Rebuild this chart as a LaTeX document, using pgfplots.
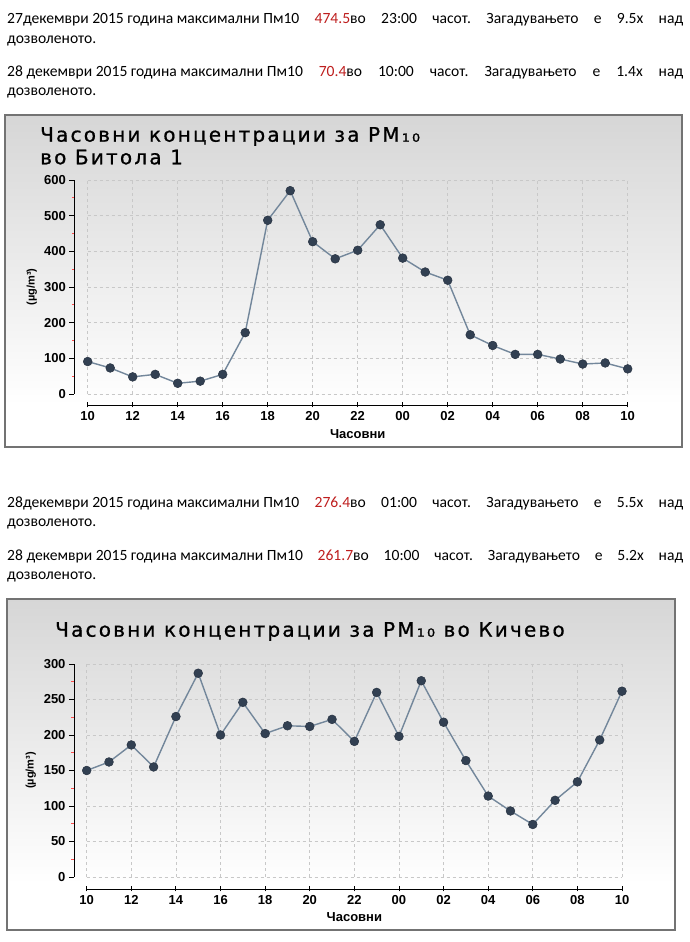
\documentclass[border=0pt]{standalone}
\usepackage{fontspec}
\setmainfont{Carlito}
\newfontfamily\titlefont[LetterSpace=11, FakeBold=0.8]{DejaVu Sans}
\newfontfamily\axfont{Liberation Sans}
\usepackage{pgfplots}
\pgfplotsset{compat=1.18}
\usepackage{pgfplotstable}

\definecolor{linec}{RGB}{115,135,155}
\definecolor{markc}{RGB}{50,64,82}
\definecolor{gridc}{RGB}{200,200,200}
\definecolor{numred}{RGB}{190,30,30}
\definecolor{boxc}{RGB}{115,115,115}

% hourly PM10, hour index 0 = 10:00
\pgfplotstableread{
h v
0 91
1 73
2 48
3 55
4 30
5 36
6 55
7 172
8 487
9 570
10 427
11 379
12 403
13 474.5
14 381
15 342
16 319
17 166
18 136
19 111
20 111
21 98
22 84
23 87
24 70.4
}\bitola

\pgfplotstableread{
h v
0 150
1 162
2 186
3 155
4 226
5 287
6 200
7 246
8 202
9 213
10 212
11 222
12 191
13 260
14 198
15 276.4
16 218
17 164
18 114
19 93
20 74
21 108
22 134
23 193
24 261.7
}\kicevo

\pgfplotsset{pmchart/.style={
    scale only axis, anchor=origin, clip=false,
    xmin=0, xmax=24, ymin=0,
    axis lines=left, axis line style={-, black, line width=0.9pt},
    xtick={0,2,...,24},
    xticklabels={10,12,14,16,18,20,22,00,02,04,06,08,10},
    grid=major, major grid style={dashed, gridc, line width=0.6pt},
    tick label style={font=\axfont\bfseries\fontsize{13}{15}\selectfont},
    xticklabel style={anchor=base, yshift=-13pt},
    label style={font=\axfont\bfseries\fontsize{13}{15}\selectfont},
    /pgf/number format/assume math mode=true,
    minor y tick num=1,
    tick style={black, line width=0.9pt},
    minor y tick style={red!70, line width=0.8pt},
    tick align=outside, xtick align=center,
    major tick length=5pt, minor tick length=2.5pt,
    xlabel={Часовни},
    ylabel={(µg/m³)},
    xlabel style={at={(axis description cs:0.5,0)}, anchor=center, yshift=-40pt},
    ylabel style={at={(axis description cs:0,0.5)}, anchor=center, yshift=56pt,
      font=\axfont\bfseries\fontsize{11}{13}\selectfont},
  },
  pmline/.style={color=linec, line width=1.4pt, mark=*, mark size=4.4pt,
    mark options={fill=markc, draw=markc!80!black, line width=0.5pt}},
}

\begin{document}
\frenchspacing
\begin{tikzpicture}[x=1pt, y=1pt]
\useasboundingbox (0,0) rectangle (690,942);

\begin{scope}[font=\fontsize{15.6}{18}\selectfont]
\node[anchor=base west, inner sep=0] at (7,918) {\makebox[676pt][s]{\mbox{27декември 2015 година максимални Пм10} \textcolor{numred}{474.5}во 23:00 часот. Загадувањето е 9.5x над}};
\node[anchor=base west, inner sep=0] at (7,898) {дозволеното.};
\node[anchor=base west, inner sep=0] at (7,865.3) {\makebox[676pt][s]{\mbox{28 декември 2015 година максимални Пм10} \textcolor{numred}{70.4}во 10:00 часот. Загадувањето е 1.4x над}};
\node[anchor=base west, inner sep=0] at (7,846) {дозволеното.};
\node[anchor=base west, inner sep=0] at (7,434.3) {\makebox[676pt][s]{\mbox{28декември 2015 година максимални Пм10} \textcolor{numred}{276.4}во 01:00 часот. Загадувањето е 5.5x над}};
\node[anchor=base west, inner sep=0] at (7,415) {дозволеното.};
\node[anchor=base west, inner sep=0] at (7,381.3) {\makebox[676pt][s]{\mbox{28 декември 2015 година максимални Пм10} \textcolor{numred}{261.7}во 10:00 часот. Загадувањето е 5.2x над}};
\node[anchor=base west, inner sep=0] at (7,362) {дозволеното.};
\end{scope}

% chart 1 frame
\shade[top color=black!16, bottom color=white] (5,827) rectangle (682,537);
\draw[boxc, line width=1.2pt] (5,827) rectangle (682,495);
\node[anchor=base west, inner sep=0, font=\titlefont\fontsize{20}{24}\selectfont] at (40,800.3) {Часовни концентрации за PM₁₀};
\node[anchor=base west, inner sep=0, font=\titlefont\fontsize{20}{24}\selectfont] at (40,777.7) {во Битола 1};

\begin{axis}[pmchart, at={(87.7pt,548pt)}, width=540pt, height=214pt,
    ymax=600, ytick={0,100,...,600},
    axis x line shift=11pt, axis y line shift=13.4pt]
  \addplot[pmline] table[x=h, y=v] {\bitola};
\end{axis}

% chart 2 frame
\shade[top color=black!16, bottom color=white] (7,343) rectangle (675,58);
\draw[boxc, line width=1.2pt] (7,343) rectangle (675,12);
\node[anchor=base west, inner sep=0, font=\titlefont\fontsize{20}{24}\selectfont] at (55,305.3) {Часовни концентрации за PM₁₀ во Кичево};

\begin{axis}[pmchart, at={(86.7pt,65pt)}, width=535.3pt, height=213pt,
    ymax=300, ytick={0,50,...,300},
    axis x line shift=12pt, axis y line shift=12.7pt]
  \addplot[pmline] table[x=h, y=v] {\kicevo};
\end{axis}
\end{tikzpicture}
\end{document}
